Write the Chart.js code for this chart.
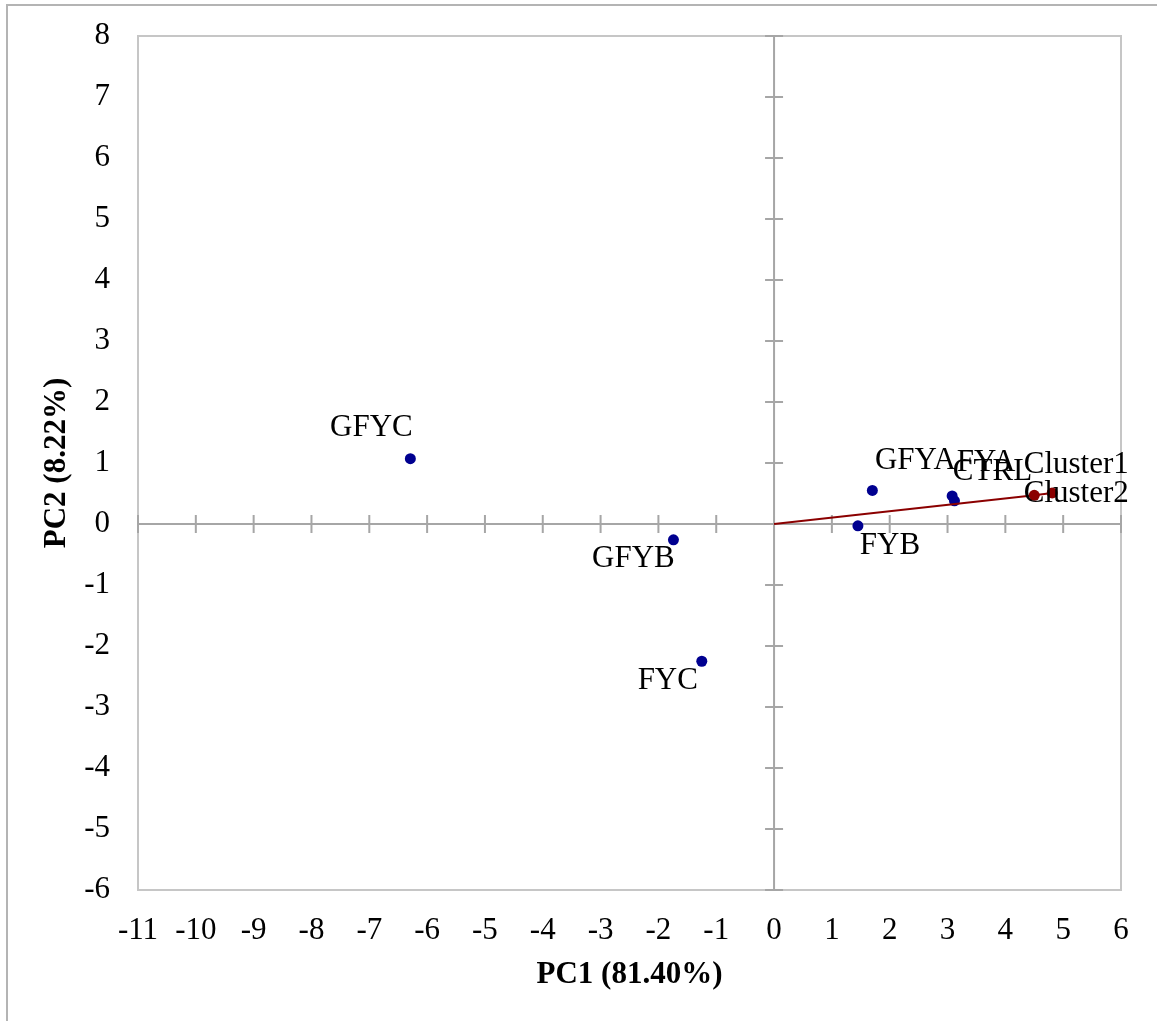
<!DOCTYPE html>
<html>
<head>
<meta charset="utf-8">
<script src="https://cdn.jsdelivr.net/npm/chart.js@4/dist/chart.umd.min.js"></script>
<style>
    body { margin: 0; background: #fff; }
    canvas { display: block; }
</style>
</head>
<body>
<canvas id="pcaChart" width="1157" height="1021"></canvas>
<script>
// PCA scores
const sampleNames = ['GFYC', 'GFYB', 'FYC', 'FYB', 'GFYA', 'FYA', 'CTRL'];
const samplePc1 = [-6.29, -1.74, -1.25, 1.45, 1.70, 3.08, 3.12];
const samplePc2 = [1.07, -0.26, -2.25, -0.03, 0.55, 0.46, 0.38];

const clusterNames = ['Cluster1', 'Cluster2'];
const clusterPc1 = [4.50, 4.81];
const clusterPc2 = [0.47, 0.51];

const xRange = [-11, 6];
const yRange = [-6, 8];

// label offsets from the point (px)
const labelShift = {
    GFYC: [-39, -31], GFYB: [-40, 19], FYC: [-34, 20], FYB: [32, 20],
    GFYA: [43, -30], FYA: [34, -33], CTRL: [38, -29],
    Cluster1: [42, -30], Cluster2: [24, 1]
};

const FONT = "'Liberation Serif', 'Times New Roman', serif";

const frame = {
    id: 'frame',
    beforeDraw(chart) {
        const ctx = chart.ctx;
        const a = chart.chartArea;
        ctx.save();
        // outer border
        ctx.strokeStyle = '#b4b4b4';
        ctx.lineWidth = 2;
        ctx.beginPath();
        ctx.moveTo(7, chart.height);
        ctx.lineTo(7, 5);
        ctx.lineTo(chart.width, 5);
        ctx.stroke();
        // plot area border
        ctx.strokeStyle = '#c6c6c6';
        ctx.strokeRect(a.left, a.top, a.right - a.left, a.bottom - a.top);
        ctx.restore();
    },
    beforeDatasetsDraw(chart) {
        const ctx = chart.ctx;
        const xs = chart.scales.x, ys = chart.scales.y;
        const x0 = xs.getPixelForValue(0), y0 = ys.getPixelForValue(0);
        const a = chart.chartArea;
        ctx.save();
        ctx.strokeStyle = '#a6a6a6';
        ctx.lineWidth = 2;
        ctx.beginPath();
        ctx.moveTo(a.left, y0); ctx.lineTo(a.right, y0);
        ctx.moveTo(x0, a.top); ctx.lineTo(x0, a.bottom);
        xs.ticks.forEach(t => {
            const px = xs.getPixelForValue(t.value);
            ctx.moveTo(px, y0 - 9); ctx.lineTo(px, y0 + 9);
        });
        ys.ticks.forEach(t => {
            const py = ys.getPixelForValue(t.value);
            ctx.moveTo(x0 - 9, py); ctx.lineTo(x0 + 9, py);
        });
        ctx.stroke();
        ctx.restore();
    },
    afterDatasetsDraw(chart) {
        const ctx = chart.ctx;
        ctx.save();
        ctx.font = '31px ' + FONT;
        ctx.fillStyle = '#000';
        ctx.textAlign = 'center';
        ctx.textBaseline = 'middle';
        chart.data.datasets.forEach((ds, i) => {
            const meta = chart.getDatasetMeta(i);
            (ds.names || []).forEach((name, j) => {
                if (!name) return;
                const el = meta.data[j];
                const s = labelShift[name];
                ctx.fillText(name, el.x + s[0], el.y + s[1]);
            });
        });
        ctx.restore();
    }
};

const ctx = document.getElementById('pcaChart').getContext('2d');
new Chart(ctx, {
    type: 'scatter',
    data: {
        datasets: [
            {
                data: [{ x: 0, y: 0 }].concat(clusterPc1.map((v, i) => ({ x: v, y: clusterPc2[i] }))),
                names: [null].concat(clusterNames),
                showLine: true,
                borderColor: '#8b0000',
                borderWidth: 2,
                backgroundColor: '#8b0000',
                pointRadius: [0, 5.5, 5.5],
                pointBorderWidth: 0
            },
            {
                data: samplePc1.map((v, i) => ({ x: v, y: samplePc2[i] })),
                names: sampleNames,
                backgroundColor: '#000090',
                borderColor: '#000090',
                pointRadius: 5.5,
                pointBorderWidth: 0
            }
        ]
    },
    options: {
        responsive: false,
        animation: false,
        layout: { padding: { top: 36, right: 36, left: 0, bottom: 0 } },
        plugins: {
            legend: { display: false },
            tooltip: { enabled: false }
        },
        scales: {
            x: {
                type: 'linear',
                min: xRange[0],
                max: xRange[1],
                afterFit: s => { s.height = 131; s.paddingLeft = 0; s.paddingRight = 0; },
                ticks: { stepSize: 1, color: '#000', padding: 22, font: { family: FONT, size: 31 } },
                grid: { display: false, drawTicks: false },
                border: { display: false },
                title: {
                    display: true,
                    text: 'PC1 (81.40%)',
                    color: '#000',
                    font: { family: FONT, size: 31, weight: 'bold' },
                    padding: { top: 0, bottom: 27 }
                }
            },
            y: {
                type: 'linear',
                min: yRange[0],
                max: yRange[1],
                afterFit: s => { s.width = 138; s.paddingTop = 0; s.paddingBottom = 0; },
                ticks: { stepSize: 1, color: '#000', padding: 28, font: { family: FONT, size: 31 } },
                grid: { display: false, drawTicks: false },
                border: { display: false },
                title: {
                    display: true,
                    text: 'PC2 (8.22%)',
                    color: '#000',
                    font: { family: FONT, size: 31, weight: 'bold' },
                    padding: { top: 38, bottom: 0 }
                }
            }
        }
    },
    plugins: [frame]
});
</script>
</body>
</html>
